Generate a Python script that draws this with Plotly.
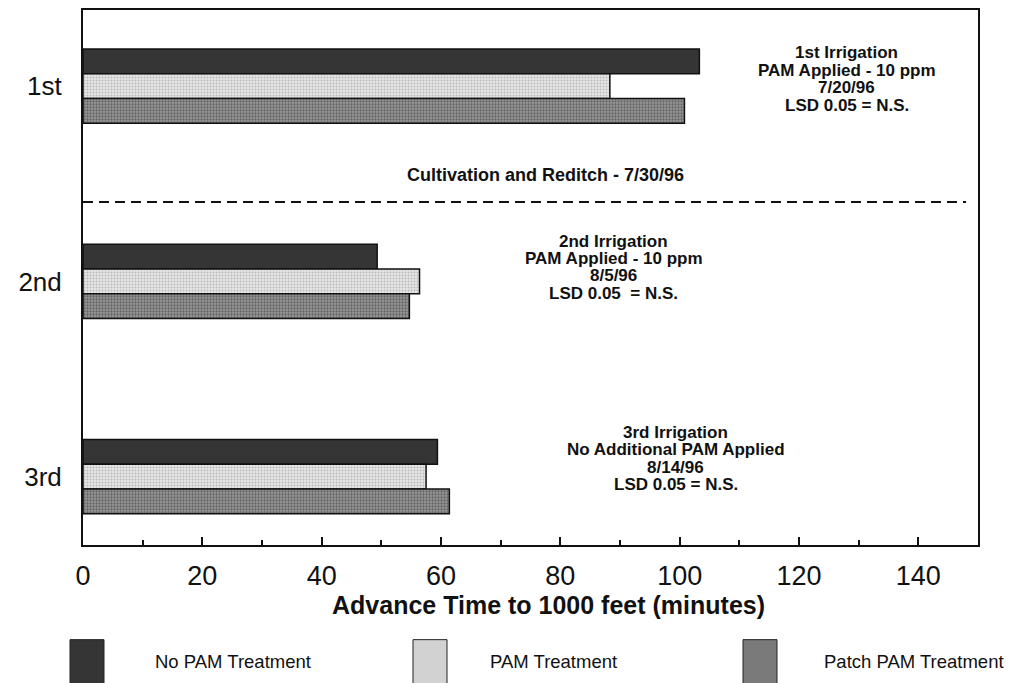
import plotly.graph_objects as go

categories = ["1st", "2nd", "3rd"]
cat_pos = [0, 1, 2]
no_pam = [103.3, 49.3, 59.4]
pam = [88.3, 56.4, 57.5]
patch_pam = [100.8, 54.7, 61.4]
series_names = ["No PAM Treatment", "PAM Treatment", "Patch PAM Treatment"]
x_ticks = [0, 20, 40, 60, 80, 100, 120, 140]
minor_ticks = [10, 30, 50, 70, 90, 110, 130]

block1 = ["1st Irrigation", "PAM Applied - 10 ppm", "7/20/96", "LSD 0.05 = N.S."]
block2 = ["2nd Irrigation", "PAM Applied - 10 ppm", "8/5/96", "LSD 0.05  = N.S."]
block3 = ["3rd Irrigation", "No Additional PAM Applied", "8/14/96", "LSD 0.05 = N.S."]
divider_text = "Cultivation and Reditch - 7/30/96"
x_title = "Advance Time to 1000 feet (minutes)"

FONT = "Liberation Sans, Arial, Helvetica, sans-serif"
INK = "#111"

fig = go.Figure()
fig.add_trace(go.Bar(
    y=cat_pos, x=no_pam, orientation="h", name=series_names[0],
    marker=dict(color="#353535", line=dict(color=INK, width=1.5)),
))
fig.add_trace(go.Bar(
    y=cat_pos, x=pam, orientation="h", name=series_names[1],
    marker=dict(color="#e6e6e6", line=dict(color=INK, width=1.5),
                pattern=dict(shape=".", size=3, solidity=0.35, fgcolor="#8a8a8a",
                             bgcolor="#e6e6e6", fillmode="overlay")),
))
fig.add_trace(go.Bar(
    y=cat_pos, x=patch_pam, orientation="h", name=series_names[2],
    marker=dict(color="#8a8a8a", line=dict(color=INK, width=1.5),
                pattern=dict(shape=".", size=3, solidity=0.45, fgcolor="#2e2e2e",
                             bgcolor="#999999", fillmode="overlay")),
))

fig.update_layout(
    width=1009, height=683,
    margin=dict(l=83, r=31, t=8, b=138),
    paper_bgcolor="white", plot_bgcolor="white",
    barmode="group", bargap=0.62, bargroupgap=0,
    showlegend=False,
    font=dict(family=FONT, color=INK),
)
fig.update_xaxes(
    range=[0, 150], tickvals=x_ticks, ticks="inside", ticklen=8, tickwidth=1.5,
    tickcolor=INK, showline=True, linecolor=INK, linewidth=2, mirror=True,
    showgrid=False, zeroline=False, tickfont=dict(size=27, family=FONT),
    ticklabelstandoff=6,
    minor=dict(tickvals=minor_ticks, ticks="inside", ticklen=5,
               tickwidth=1.5, tickcolor=INK),
)
fig.update_yaxes(
    range=[2.35, -0.39], tickvals=cat_pos, ticktext=categories, ticks="",
    showline=True, linecolor=INK, linewidth=2, mirror=True, showgrid=False,
    zeroline=False, tickfont=dict(size=26, family=FONT), ticklabelstandoff=14,
)

# divider line
fig.add_shape(type="line", x0=0, x1=148, y0=0.593, y1=0.593, xref="x", yref="y",
              line=dict(color=INK, width=2, dash="10px,6px"))


def px_to_y(py):
    return -0.39 + (py - 8) / 196.0


def px_to_x(px):
    return (px - 83) / 5.967


def add_block(lines, cx, y_first, step=17.5, size=17):
    for i, t in enumerate(lines):
        fig.add_annotation(x=px_to_x(cx), y=px_to_y(y_first + i * step), xref="x", yref="y",
                           showarrow=False, text="<b>" + t + "</b>",
                           font=dict(size=size, family=FONT, color=INK),
                           xanchor="center", yanchor="middle")


add_block(block1, 847, 51)
add_block(block2, 614, 240)
add_block(block3, 676, 432)
add_block([divider_text], 546, 174, size=18)

# axis title
fig.add_annotation(x=(548 - 83) / 895, y=-(605 - 545) / 537, xref="paper", yref="paper",
                   showarrow=False, text="<b>" + x_title + "</b>",
                   font=dict(size=25, family=FONT, color=INK), yanchor="middle")

# custom legend
leg_colors = ["#353535", "#d2d2d2", "#7a7a7a"]
leg_sq_x = [70, 413, 743]
leg_txt_x = [153, 488, 822]
for name, col, sx, tx in zip(series_names, leg_colors, leg_sq_x, leg_txt_x):
    fig.add_shape(type="rect", xref="paper", yref="paper",
                  x0=(sx - 83) / 895, x1=(sx + 34 - 83) / 895,
                  y0=(545 - 640) / 537, y1=(545 - 686) / 537,
                  fillcolor=col, line=dict(color="#222", width=1))
    fig.add_annotation(x=(tx - 83) / 895, y=(545 - 662) / 537, xref="paper", yref="paper",
                       showarrow=False, text=name, xanchor="left", yanchor="middle",
                       font=dict(size=18.5, family=FONT, color=INK))

fig.write_html("out.html", config={"displayModeBar": False},
               post_script="document.body.style.margin='0';document.body.style.overflow='hidden';")
